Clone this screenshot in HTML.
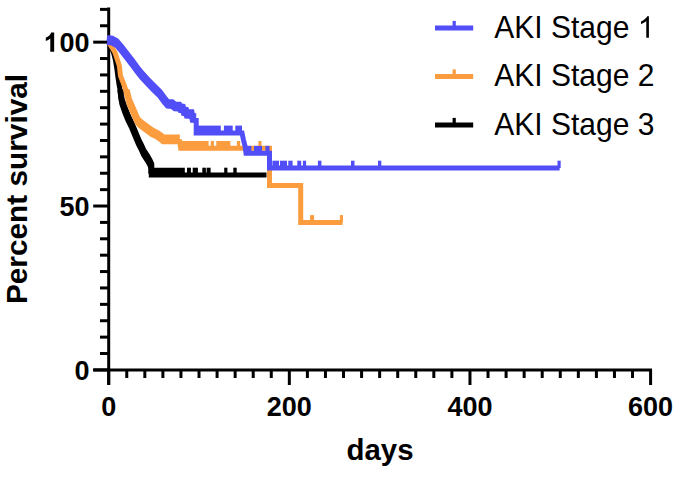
<!DOCTYPE html>
<html><head><meta charset="utf-8"><style>
html,body{margin:0;padding:0;background:#fff;width:685px;height:481px;overflow:hidden}
svg{display:block}
</style></head><body>
<svg width="685" height="481" viewBox="0 0 685 481">
<rect width="685" height="481" fill="#fff"/>
<line x1="108.7" y1="7.4" x2="108.7" y2="385" stroke="#000" stroke-width="3"/>
<line x1="93.2" y1="369.9" x2="652" y2="369.9" stroke="#000" stroke-width="3"/>
<line x1="93.2" y1="369.90" x2="108.7" y2="369.90" stroke="#000" stroke-width="3"/>
<line x1="100" y1="353.51" x2="108.7" y2="353.51" stroke="#000" stroke-width="3"/>
<line x1="100" y1="337.12" x2="108.7" y2="337.12" stroke="#000" stroke-width="3"/>
<line x1="100" y1="320.74" x2="108.7" y2="320.74" stroke="#000" stroke-width="3"/>
<line x1="100" y1="304.35" x2="108.7" y2="304.35" stroke="#000" stroke-width="3"/>
<line x1="100" y1="287.96" x2="108.7" y2="287.96" stroke="#000" stroke-width="3"/>
<line x1="100" y1="271.57" x2="108.7" y2="271.57" stroke="#000" stroke-width="3"/>
<line x1="100" y1="255.19" x2="108.7" y2="255.19" stroke="#000" stroke-width="3"/>
<line x1="100" y1="238.80" x2="108.7" y2="238.80" stroke="#000" stroke-width="3"/>
<line x1="100" y1="222.41" x2="108.7" y2="222.41" stroke="#000" stroke-width="3"/>
<line x1="93.2" y1="206.02" x2="108.7" y2="206.02" stroke="#000" stroke-width="3"/>
<line x1="100" y1="189.64" x2="108.7" y2="189.64" stroke="#000" stroke-width="3"/>
<line x1="100" y1="173.25" x2="108.7" y2="173.25" stroke="#000" stroke-width="3"/>
<line x1="100" y1="156.86" x2="108.7" y2="156.86" stroke="#000" stroke-width="3"/>
<line x1="100" y1="140.47" x2="108.7" y2="140.47" stroke="#000" stroke-width="3"/>
<line x1="100" y1="124.09" x2="108.7" y2="124.09" stroke="#000" stroke-width="3"/>
<line x1="100" y1="107.70" x2="108.7" y2="107.70" stroke="#000" stroke-width="3"/>
<line x1="100" y1="91.31" x2="108.7" y2="91.31" stroke="#000" stroke-width="3"/>
<line x1="100" y1="74.93" x2="108.7" y2="74.93" stroke="#000" stroke-width="3"/>
<line x1="100" y1="58.54" x2="108.7" y2="58.54" stroke="#000" stroke-width="3"/>
<line x1="93.2" y1="42.15" x2="108.7" y2="42.15" stroke="#000" stroke-width="3"/>
<line x1="100" y1="25.76" x2="108.7" y2="25.76" stroke="#000" stroke-width="3"/>
<line x1="100" y1="9.38" x2="108.7" y2="9.38" stroke="#000" stroke-width="3"/>
<line x1="108.70" y1="369.9" x2="108.70" y2="385" stroke="#000" stroke-width="3"/>
<line x1="126.76" y1="369.9" x2="126.76" y2="378" stroke="#000" stroke-width="3"/>
<line x1="144.83" y1="369.9" x2="144.83" y2="378" stroke="#000" stroke-width="3"/>
<line x1="162.89" y1="369.9" x2="162.89" y2="378" stroke="#000" stroke-width="3"/>
<line x1="180.95" y1="369.9" x2="180.95" y2="378" stroke="#000" stroke-width="3"/>
<line x1="199.01" y1="369.9" x2="199.01" y2="378" stroke="#000" stroke-width="3"/>
<line x1="217.08" y1="369.9" x2="217.08" y2="378" stroke="#000" stroke-width="3"/>
<line x1="235.14" y1="369.9" x2="235.14" y2="378" stroke="#000" stroke-width="3"/>
<line x1="253.20" y1="369.9" x2="253.20" y2="378" stroke="#000" stroke-width="3"/>
<line x1="271.27" y1="369.9" x2="271.27" y2="378" stroke="#000" stroke-width="3"/>
<line x1="289.33" y1="369.9" x2="289.33" y2="385" stroke="#000" stroke-width="3"/>
<line x1="307.39" y1="369.9" x2="307.39" y2="378" stroke="#000" stroke-width="3"/>
<line x1="325.46" y1="369.9" x2="325.46" y2="378" stroke="#000" stroke-width="3"/>
<line x1="343.52" y1="369.9" x2="343.52" y2="378" stroke="#000" stroke-width="3"/>
<line x1="361.58" y1="369.9" x2="361.58" y2="378" stroke="#000" stroke-width="3"/>
<line x1="379.64" y1="369.9" x2="379.64" y2="378" stroke="#000" stroke-width="3"/>
<line x1="397.71" y1="369.9" x2="397.71" y2="378" stroke="#000" stroke-width="3"/>
<line x1="415.77" y1="369.9" x2="415.77" y2="378" stroke="#000" stroke-width="3"/>
<line x1="433.83" y1="369.9" x2="433.83" y2="378" stroke="#000" stroke-width="3"/>
<line x1="451.90" y1="369.9" x2="451.90" y2="378" stroke="#000" stroke-width="3"/>
<line x1="469.96" y1="369.9" x2="469.96" y2="385" stroke="#000" stroke-width="3"/>
<line x1="488.02" y1="369.9" x2="488.02" y2="378" stroke="#000" stroke-width="3"/>
<line x1="506.09" y1="369.9" x2="506.09" y2="378" stroke="#000" stroke-width="3"/>
<line x1="524.15" y1="369.9" x2="524.15" y2="378" stroke="#000" stroke-width="3"/>
<line x1="542.21" y1="369.9" x2="542.21" y2="378" stroke="#000" stroke-width="3"/>
<line x1="560.27" y1="369.9" x2="560.27" y2="378" stroke="#000" stroke-width="3"/>
<line x1="578.34" y1="369.9" x2="578.34" y2="378" stroke="#000" stroke-width="3"/>
<line x1="596.40" y1="369.9" x2="596.40" y2="378" stroke="#000" stroke-width="3"/>
<line x1="614.46" y1="369.9" x2="614.46" y2="378" stroke="#000" stroke-width="3"/>
<line x1="632.53" y1="369.9" x2="632.53" y2="378" stroke="#000" stroke-width="3"/>
<line x1="650.59" y1="369.9" x2="650.59" y2="385" stroke="#000" stroke-width="3"/>
<g font-family="Liberation Sans, sans-serif" font-weight="bold" font-size="27" fill="#000">
<text x="89.5" y="379.60" text-anchor="end">0</text>
<text x="89.5" y="215.72" text-anchor="end">50</text>
<text x="89.5" y="51.85" text-anchor="end">00</text>
<path transform="translate(44.452,51.85) scale(0.013184,-0.013184)" d="M737,0L442,0L442,1010C350,930 230,870 100,830L100,1075C190,1105 290,1165 370,1240C440,1310 490,1390 510,1466L737,1466Z"/>
<text x="108.70" y="415.5" text-anchor="middle">0</text>
<text x="289.33" y="415.5" text-anchor="middle">200</text>
<text x="469.96" y="415.5" text-anchor="middle">400</text>
<text x="650.59" y="415.5" text-anchor="middle">600</text>
</g>
<text x="380" y="459.9" text-anchor="middle" font-family="Liberation Sans, sans-serif" font-weight="bold" font-size="29.4">days</text>
<text transform="translate(27.2,189) rotate(-90)" text-anchor="middle" font-family="Liberation Sans, sans-serif" font-weight="bold" font-size="29.8">Percent survival</text>
<g fill="none" stroke="#000000" stroke-width="5" stroke-linejoin="miter" stroke-miterlimit="2">
<polyline points="108.7,42.2 110.8,46 113.5,52.5 115.4,60 116.8,68.3 117.9,76.6 119,84 119.9,89 120.4,94 121,99 121.8,104 125,113 128,120.5 131.7,128 135,136 138.3,144 140.9,149 143.6,155 146.9,160 149.5,164.5 151.3,168.5 151.3,175 266.5,175"/>
<polyline stroke-width="6" points="120.4,89.7 121,94.7 121.8,99.7 125,108.7 128,116.2 131.7,123.7 135,131.7 138.3,139.7 140.9,144.7 143.6,150.7 146.9,155.7 149.5,160.2 151.3,164.2 151.3,170.7 184.8,170.7"/>
</g>
<g fill="#000000">
<rect x="187" y="167.70" width="3.90" height="7.30"/>
<rect x="192.7" y="167.70" width="5.20" height="7.30"/>
<rect x="202.3" y="167.70" width="3.60" height="7.30"/>
<rect x="206.6" y="167.70" width="4.00" height="7.30"/>
<rect x="224.2" y="167.70" width="3.20" height="7.30"/>
<rect x="233.3" y="167.70" width="3.40" height="7.30"/>
</g>
<g fill="none" stroke="#FB9C3E" stroke-width="5" stroke-linejoin="miter" stroke-miterlimit="2">
<polyline points="108.7,42.2 110.8,45.5 115,52.5 118.3,62.5 119.4,66 120.5,76 122.5,81 123.7,84 125.5,89 126.6,94 129.1,104 132.2,111 135.2,118 136.8,122 139,124.8 141,126.6 147,130.9 151.8,134.5 157,137.1 161,139.9 163,141.8 179.8,141.8 180.7,148.3 269.5,148.3 269.5,185.6 300.7,185.6 300.7,222.4 342.5,222.4"/>
<polyline stroke-width="6" points="126.6,89.7 129.1,99.7 132.2,106.7 135.2,113.7 136.8,117.7 139,120.5 141,122.3 147,126.6 151.8,130.2 157,132.8 161,135.6 163,137.5 179.8,137.5"/>
<polyline stroke-width="6" points="180.7,144 208.6,144"/>
</g>
<g fill="#FB9C3E">
<rect x="210.7" y="141.00" width="3.20" height="7.30"/>
<rect x="216.3" y="141.00" width="14.00" height="7.30"/>
<rect x="236.9" y="141.00" width="3.30" height="7.30"/>
<rect x="258.4" y="141.00" width="3.10" height="7.30"/>
<rect x="310.1" y="215.10" width="4.00" height="7.30"/>
<rect x="339.9" y="215.10" width="3.10" height="7.30"/>
</g>
<g fill="none" stroke="#524EF7" stroke-width="5" stroke-linejoin="miter" stroke-miterlimit="2">
<polyline points="107,42.2 112,43 116.5,45.5 122.4,52.4 127.1,58.6 132,64.9 136.5,71.1 141.5,77.4 147.2,83.6 153.4,89.9 159.6,96.1 164.3,102.4 167.5,106.2 172,106.5 174.8,108.7 179.2,109 180,110.5 182.8,111 183.5,113.5 186,114 186.5,116.2 191.5,116.5 192.3,120.4 196.2,120.5 196.2,132.9 242,132.9 243.5,140 245,146 246,153.2 269.5,153.2 269.5,168 559.6,168"/>
<polyline stroke-width="6" points="107,37.9 112,38.7 116.5,41.2 122.4,48.1 127.1,54.3 132,60.6 136.5,66.8 141.5,73.1 147.2,79.3 153.4,85.6 159.6,91.8 164.3,98.1 167.5,101.9 172,102.2 174.8,104.4 179.2,104.7 180,106.2 182.8,106.7 183.5,109.2 186,109.7 186.5,111.9 191.5,112.2 192.3,116.1 196.2,116.2"/>
</g>
<g fill="#524EF7">
<rect x="196" y="125.60" width="24.80" height="7.30"/>
<rect x="223.9" y="125.60" width="8.80" height="7.30"/>
<rect x="235.3" y="125.60" width="6.70" height="7.30"/>
<rect x="245" y="145.90" width="6.40" height="7.30"/>
<rect x="254" y="145.90" width="8.00" height="7.30"/>
<rect x="265.4" y="145.90" width="4.10" height="7.30"/>
<rect x="272.4" y="160.70" width="6.60" height="7.30"/>
<rect x="280.0" y="160.70" width="7.00" height="7.30"/>
<rect x="288.3" y="160.70" width="4.30" height="7.30"/>
<rect x="297.3" y="160.70" width="3.90" height="7.30"/>
<rect x="302.9" y="160.70" width="3.20" height="7.30"/>
<rect x="317.9" y="160.70" width="3.50" height="7.30"/>
<rect x="351" y="160.70" width="3.50" height="7.30"/>
<rect x="378" y="160.70" width="3.30" height="7.30"/>
<rect x="557.5" y="160.70" width="3.20" height="7.30"/>
</g>
<line x1="435" y1="28.0" x2="473.2" y2="28.0" stroke="#524EF7" stroke-width="5.2"/>
<rect x="452.6" y="20.9" width="3.2" height="7.1" fill="#524EF7"/>
<text transform="translate(494.3,37.8) scale(1,1.025)" x="0" y="0" font-family="Liberation Sans, sans-serif" font-size="30" fill="#000">AKI Stage </text>
<path transform="translate(637.730,37.8) scale(0.014648,-0.014648)" d="M763,0L583,0L583,1147C540,1106 483,1065 413,1024C343,983 280,952 223,931L223,1105C324,1152 412,1210 487,1278C562,1346 615,1412 646,1476L763,1476Z" fill="#000"/>
<line x1="435" y1="76.5" x2="473.2" y2="76.5" stroke="#FB9C3E" stroke-width="5.2"/>
<rect x="452.6" y="69.4" width="3.2" height="7.1" fill="#FB9C3E"/>
<text transform="translate(494.3,86.3) scale(1,1.025)" x="0" y="0" font-family="Liberation Sans, sans-serif" font-size="30" fill="#000">AKI Stage 2</text>
<line x1="435" y1="125.0" x2="473.2" y2="125.0" stroke="#000000" stroke-width="5.2"/>
<rect x="452.6" y="117.9" width="3.2" height="7.1" fill="#000000"/>
<text transform="translate(494.3,134.8) scale(1,1.025)" x="0" y="0" font-family="Liberation Sans, sans-serif" font-size="30" fill="#000">AKI Stage 3</text>
</svg>
</body></html>
